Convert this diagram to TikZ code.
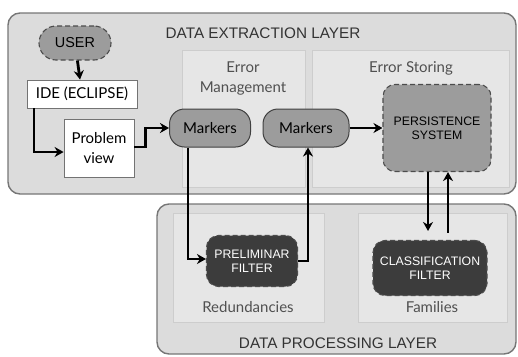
\documentclass[tikz,border=0pt]{standalone}
\usepackage{fontspec}
\setmainfont{Lato}
\newfontfamily\capsfont{Liberation Sans}
\usetikzlibrary{arrows.meta}
\definecolor{layerfill}{HTML}{DCDCDC}
\definecolor{layeredge}{HTML}{767676}
\definecolor{panelfill}{HTML}{E6E6E6}
\definecolor{paneledge}{HTML}{CDCDCD}
\definecolor{markfill}{HTML}{9C9C9C}
\definecolor{darkfill}{HTML}{3C3C3C}
\definecolor{textgrey}{HTML}{505050}
\tikzset{
  >={Stealth[length=9pt, width=10pt]},
  layer/.style={draw=layeredge, fill=layerfill, line width=1.4pt, rounded corners=12pt},
  panel/.style={draw=paneledge, fill=panelfill, line width=1pt},
  title/.style={font=\capsfont\fontsize{15.3}{18}\selectfont, text=black!80},
  plbl/.style={font=\fontsize{15}{20}\selectfont, text=textgrey, align=center},
  wbox/.style={rectangle, draw=black!55, fill=white, line width=0.8pt, align=center,
               font=\fontsize{15}{20}\selectfont, inner sep=0pt},
  markbox/.style={rectangle, rounded corners=15pt, draw=black!75, fill=markfill, line width=1pt,
               minimum width=81pt, minimum height=38pt, font=\fontsize{15}{18}\selectfont, inner sep=0pt},
  dbox/.style={rectangle, rounded corners=12pt, draw=black!70, dash pattern=on 5pt off 3pt,
               line width=1.1pt, align=center, inner sep=0pt},
  store/.style={dbox, fill=markfill, font=\capsfont\fontsize{12.3}{14}\selectfont},
  filt/.style={dbox, fill=darkfill, text=white, font=\capsfont\fontsize{12.3}{14}\selectfont},
  flow/.style={->, line width=2.8pt, draw=black},
}
\begin{document}
\begin{tikzpicture}[x=1pt, y=-1pt]
  \useasboundingbox (0,0) rectangle (518,356);
  % layers and panels
  \draw[layer] (8,13) rectangle (516,194);
  \draw[layer] (157,204) rectangle (516,354);
  \draw[panel] (182,50) rectangle (305,187);
  \draw[panel] (312,50) rectangle (509,187);
  \draw[panel] (173,213) rectangle (324,322);
  \draw[panel] (358,213) rectangle (507,322);
  \node[title] (extrt) at (263,33) {DATA EXTRACTION LAYER};
  \node[title] (proct) at (338,343) {DATA PROCESSING LAYER};
  \node[plbl] (mgmt) at (243,78) {Error\\Management};
  \node[plbl] (stor) at (411,68) {Error Storing};
  \node[plbl] (redl) at (248,307) {Redundancies};
  \node[plbl] (faml) at (432,307) {Families};
  % nodes
  \node[dbox, fill=markfill, rounded corners=17pt, minimum width=72pt, minimum height=34pt,
        font=\capsfont\fontsize{14.4}{17}\selectfont] (user) at (75,43) {USER};
  \node[wbox, minimum width=110pt, minimum height=28pt] (ide) at (82,94) {IDE (ECLIPSE)};
  \node[wbox, minimum width=70pt, minimum height=58pt] (prob) at (99,148) {Problem\\view};
  \node[markbox] (mk1) at (210,128) {Markers};
  \node[markbox, minimum width=86pt] (mk2) at (306,128) {Markers};
  \node[store, minimum width=108pt, minimum height=87pt] (pers) at (437,128) {PERSISTENCE\\SYSTEM};
  \node[filt, minimum width=91pt, minimum height=51pt] (prel) at (252,261) {PRELIMINAR\\FILTER};
  \node[filt, minimum width=114pt, minimum height=55pt] (clas) at (430,268) {CLASSIFICATION\\FILTER};
  % connectors
  \draw[flow] (user) -- (ide);
  \draw[flow] ([xshift=-48pt]ide.south) |- ([yshift=-4pt]prob.west);
  \draw[flow] ([yshift=1pt]prob.east) -- ++(11,0) |- (mk1.west);
  \draw[flow] ([xshift=-22pt]mk1.south) |- ([yshift=2pt]prel.west);
  \draw[flow] (prel.east) -| ([xshift=2pt]mk2.south);
  \draw[flow] (mk2) -- (pers);
  \coordinate (dn) at ([xshift=-9pt]pers.south);
  \coordinate (up) at ([xshift=11pt]pers.south);
  \draw[flow, shorten >=9pt] (dn) -- (dn |- clas.north);
  \draw[flow, shorten <=7pt] (up |- clas.north) -- (up);
\end{tikzpicture}
\end{document}
